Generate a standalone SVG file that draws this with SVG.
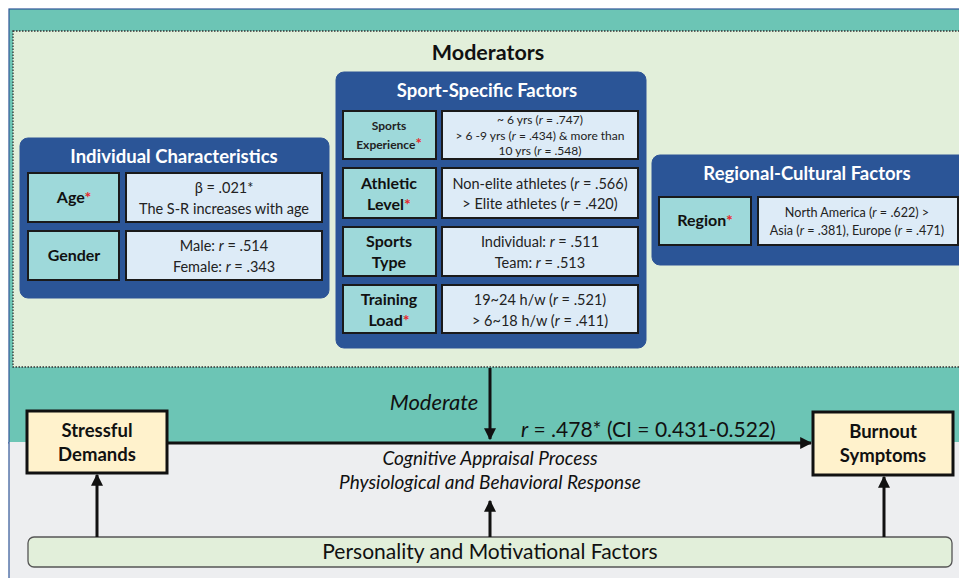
<svg xmlns="http://www.w3.org/2000/svg" width="959" height="578" viewBox="0 0 959 578">
<style>
text{font-family:Lato,"Liberation Sans",sans-serif;fill:#111}
.panel{fill:#2B5597;stroke:#2F5597;stroke-width:1}
.ptitle{fill:#fff;font-weight:bold;font-size:18.5px;text-anchor:middle}
.lab{fill:#9ED9DA;stroke:#1a1a1a;stroke-width:2}
.val{fill:#DDEBF7;stroke:#1a1a1a;stroke-width:2}
.lt{font-weight:bold;font-size:16px;text-anchor:middle}
.vt{font-size:14.5px;text-anchor:middle;fill:#222}
.rt{font-size:12.6px;text-anchor:middle;fill:#222}
.st{font-size:12px;text-anchor:middle;fill:#222}
.red{fill:#E8262A}
.out{fill:#FFF2CC;stroke:#111;stroke-width:3}
.ot{font-weight:bold;font-size:18.5px;text-anchor:middle}
.conn{stroke:#111;stroke-width:3;fill:none}
.it{font-style:italic;text-anchor:middle}
</style>
<defs>
<marker id="ah" viewBox="0 0 10 10" refX="9" refY="5" markerWidth="4" markerHeight="4" markerUnits="strokeWidth" orient="auto">
<path d="M0,0 L10,5 L0,10 z" fill="#111"/>
</marker>
</defs>

<!-- backgrounds -->
<rect x="9" y="9" width="955" height="434" fill="#6CC5B5" stroke="#2F5597" stroke-width="1.2"/>
<rect x="9" y="442" width="955" height="140" fill="#EDEEF0"/>
<line x1="9" y1="442" x2="9" y2="578" stroke="#2F5597" stroke-width="1.2"/>
<rect x="13" y="31" width="950" height="336" fill="#E2EFDA" stroke="#333" stroke-width="1.3" stroke-dasharray="1.5 1.5"/>
<text x="488" y="60" text-anchor="middle" font-weight="bold" font-size="21.5">Moderators</text>

<g id="individual">
<rect class="panel" x="20" y="138" width="309" height="160" rx="8"/>
<text class="ptitle" x="174" y="163">Individual Characteristics</text>
<rect class="lab" x="28" y="173" width="91" height="49"/>
<text class="lt" x="74" y="203">Age<tspan class="red">*</tspan></text>
<rect class="val" x="126" y="173" width="196" height="49"/>
<text class="vt" x="224" y="193">β = .021*</text>
<text class="vt" x="224" y="214">The S-R increases with age</text>
<rect class="lab" x="28" y="231" width="91" height="49"/>
<text class="lt" x="74" y="261">Gender</text>
<rect class="val" x="126" y="231" width="196" height="49"/>
<text class="vt" x="224" y="251">Male: <tspan font-style="italic">r</tspan> = .514</text>
<text class="vt" x="224" y="272">Female: <tspan font-style="italic">r</tspan> = .343</text>
</g>

<g id="sport">
<rect class="panel" x="336" y="72" width="310" height="276" rx="8"/>
<text class="ptitle" x="487" y="97">Sport-Specific Factors</text>
<rect class="lab" x="343" y="111" width="93" height="48"/>
<text class="st" x="389" y="130" font-weight="bold">Sports</text>
<text class="st" x="389" y="149" font-weight="bold">Experience<tspan class="red" style="font-size:15px">*</tspan></text>
<rect class="val" x="442" y="111" width="196" height="48"/>
<text class="st" x="540" y="124">~ 6 yrs (<tspan font-style="italic">r</tspan> = .747)</text>
<text class="st" x="540" y="139.5">&gt; 6 -9 yrs (<tspan font-style="italic">r</tspan> = .434) &amp; more than</text>
<text class="st" x="540" y="155">10 yrs (<tspan font-style="italic">r</tspan> = .548)</text>

<rect class="lab" x="343" y="168" width="93" height="50"/>
<text class="lt" x="389" y="189">Athletic</text>
<text class="lt" x="389" y="210">Level<tspan class="red">*</tspan></text>
<rect class="val" x="442" y="168" width="196" height="50"/>
<text class="vt" x="540" y="189">Non-elite athletes (<tspan font-style="italic">r</tspan> = .566)</text>
<text class="vt" x="540" y="209">&gt; Elite athletes (<tspan font-style="italic">r</tspan> = .420)</text>

<rect class="lab" x="343" y="227" width="93" height="49"/>
<text class="lt" x="389" y="247">Sports</text>
<text class="lt" x="389" y="268">Type</text>
<rect class="val" x="442" y="227" width="196" height="49"/>
<text class="vt" x="540" y="247">Individual: <tspan font-style="italic">r</tspan> = .511</text>
<text class="vt" x="540" y="268">Team: <tspan font-style="italic">r</tspan> = .513</text>

<rect class="lab" x="343" y="285" width="93" height="48"/>
<text class="lt" x="389" y="305">Training</text>
<text class="lt" x="389" y="326">Load<tspan class="red">*</tspan></text>
<rect class="val" x="442" y="285" width="196" height="48"/>
<text class="vt" x="540" y="305">19~24 h/w (<tspan font-style="italic">r</tspan> = .521)</text>
<text class="vt" x="540" y="326">&gt; 6~18 h/w (<tspan font-style="italic">r</tspan> = .411)</text>
</g>

<g id="regional">
<rect class="panel" x="652" y="155" width="315" height="110" rx="8"/>
<text class="ptitle" x="807" y="180">Regional-Cultural Factors</text>
<rect class="lab" x="659" y="197" width="92" height="48"/>
<text class="lt" x="705" y="226">Region<tspan class="red">*</tspan></text>
<rect class="val" x="758" y="197" width="200" height="48"/>
<text class="rt" x="857" y="217">North America (<tspan font-style="italic">r</tspan> = .622) &gt;</text>
<text class="rt" x="857" y="235">Asia (<tspan font-style="italic">r</tspan> = .381), Europe (<tspan font-style="italic">r</tspan> = .471)</text>
</g>

<g id="stressful">
<rect class="out" x="27" y="411" width="140" height="62"/>
<text class="ot" x="97" y="437">Stressful</text>
<text class="ot" x="97" y="461">Demands</text>
</g>

<g id="burnout">
<rect class="out" x="813" y="412" width="140" height="63"/>
<text class="ot" x="883" y="438">Burnout</text>
<text class="ot" x="883" y="462">Symptoms</text>
</g>

<g id="personality">
<rect x="28" y="537" width="924" height="30" rx="6" fill="#E2EFDA" stroke="#555" stroke-width="1.3"/>
<text x="490" y="559" text-anchor="middle" font-size="21">Personality and Motivational Factors</text>
</g>

<g id="connectors">
<line class="conn" x1="167" y1="443" x2="811" y2="443" marker-end="url(#ah)"/>
<line class="conn" x1="490" y1="368" x2="490" y2="439" marker-end="url(#ah)"/>
<line class="conn" x1="97" y1="537" x2="97" y2="475" marker-end="url(#ah)"/>
<line class="conn" x1="884" y1="537" x2="884" y2="477" marker-end="url(#ah)"/>
<line class="conn" x1="490" y1="537" x2="490" y2="501" marker-end="url(#ah)"/>
</g>

<text class="it" x="434" y="410" font-size="22">Moderate</text>
<text x="521" y="437" font-size="21"><tspan font-style="italic">r</tspan> = .478* (CI = 0.431-0.522)</text>
<text class="it" x="490" y="465" font-size="19">Cognitive Appraisal Process</text>
<text class="it" x="490" y="489" font-size="19">Physiological and Behavioral Response</text>
</svg>
